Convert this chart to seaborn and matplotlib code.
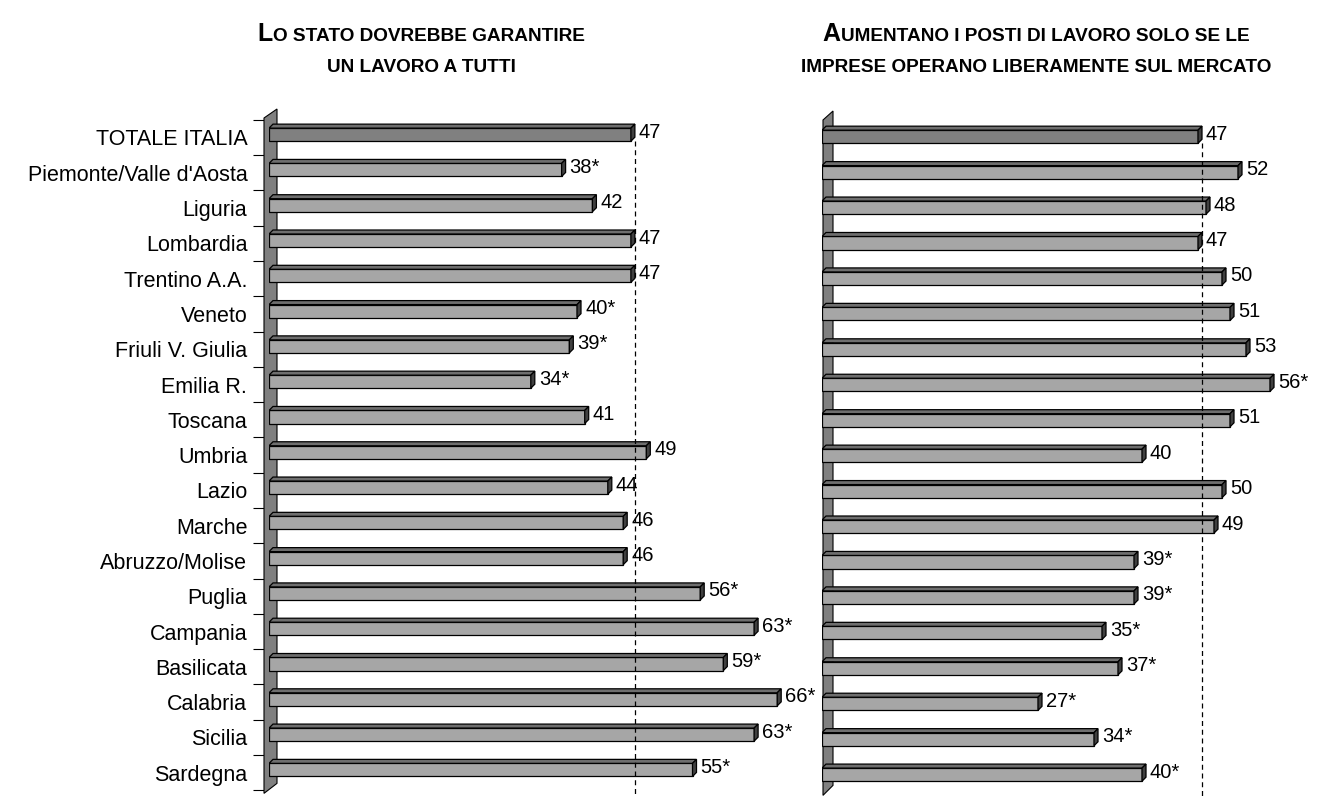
import matplotlib
matplotlib.use("Agg")
import matplotlib.pyplot as plt
import numpy as np
import pandas as pd
import seaborn as sns
from matplotlib.offsetbox import AnchoredOffsetbox, HPacker, TextArea
from matplotlib.patches import Polygon
from matplotlib.transforms import IdentityTransform

# --- data -------------------------------------------------------------------
regions = [
    "TOTALE ITALIA", "Piemonte/Valle d'Aosta", "Liguria", "Lombardia",
    "Trentino A.A.", "Veneto", "Friuli V. Giulia", "Emilia R.", "Toscana",
    "Umbria", "Lazio", "Marche", "Abruzzo/Molise", "Puglia", "Campania",
    "Basilicata", "Calabria", "Sicilia", "Sardegna",
]
state_values = [47, 38, 42, 47, 47, 40, 39, 34, 41, 49, 44, 46, 46, 56, 63, 59, 66, 63, 55]
state_labels = ["47", "38*", "42", "47", "47", "40*", "39*", "34*", "41", "49",
                "44", "46", "46", "56*", "63*", "59*", "66*", "63*", "55*"]
market_values = [47, 52, 48, 47, 50, 51, 53, 56, 51, 40, 50, 49, 39, 39, 35, 37, 27, 34, 40]
market_labels = ["47", "52", "48", "47", "50", "51", "53", "56*", "51", "40",
                 "50", "49", "39*", "39*", "35*", "37*", "27*", "34*", "40*"]

W, H = 1319, 799
ROW = 35.44
DEPTH = 4  # px, fake 3d depth of the bars

sns.set_theme(style="white")
plt.rcParams["font.family"] = ["Liberation Sans", "DejaVu Sans"]

fig = plt.figure(figsize=(W / 100, H / 100), dpi=100)


def px_axes(left, top, width, height):
    return fig.add_axes([left / W, 1 - (top + height) / H, width / W, height / H])


def draw_panel(ax, values, labels, xmax, wall_off):
    n = len(regions)
    df = pd.DataFrame({"region": regions, "value": values})
    colors = {r: ("#808080" if r == "TOTALE ITALIA" else "#a6a6a6") for r in regions}
    sns.barplot(data=df, x="value", y="region", hue="region", palette=colors,
                legend=False, orient="h", width=0.37, edgecolor="black",
                linewidth=0.9, saturation=1, ax=ax, zorder=3)
    ax.set_xlim(0, xmax)
    ax.set_ylim(n - 0.5, -0.5)
    for s in ax.spines.values():
        s.set_visible(False)
    ax.set_xticks([])
    ax.set_xlabel("")
    ax.set_ylabel("")

    # pixel -> data units
    xa, ya = ax.transData.transform((0, 0))
    xb, yb = ax.transData.transform((1, 1))
    ux = 1 / (xb - xa)
    uy = 1 / (ya - yb)
    dx, dy = DEPTH * ux, DEPTH * uy

    bars = list(ax.patches)
    for patch, lab in zip(bars, labels):
        x1 = patch.get_x() + patch.get_width()
        yt = patch.get_y()
        h = patch.get_height()
        ax.add_patch(Polygon([(0, yt), (x1, yt), (x1 + dx, yt - dy), (dx, yt - dy)],
                             closed=True, facecolor="#6e6e6e", edgecolor="black",
                             linewidth=0.9, zorder=3.5))
        ax.add_patch(Polygon([(x1, yt), (x1, yt + h), (x1 + dx, yt + h - dy), (x1 + dx, yt - dy)],
                             closed=True, facecolor="#404040", edgecolor="black",
                             linewidth=0.9, zorder=3.5))
        ax.text(x1 + dx + 4 * ux, yt + h / 2 - 2.5 * uy, lab, ha="left", va="center",
                fontsize=14.5, color="black", zorder=7)

    # national average reference line
    first = bars[0]
    xref = values[0] + dx
    ax.plot([xref, xref], [first.get_y() + first.get_height(), n - 0.3],
            color="black", linewidth=0.9, linestyle=(0, (4, 3)),
            clip_on=False, zorder=6)

    # grey side wall
    bb = ax.bbox
    x0, top, bot = bb.x0, bb.y1, bb.y0
    lo, hi = wall_off
    wall = Polygon([(x0 + lo, bot - 3), (x0 + lo, top - 1), (x0 + hi, top + 8), (x0 + hi, bot + 7)],
                   closed=True, facecolor="#808080", edgecolor="black", linewidth=0.8,
                   transform=IdentityTransform(), clip_on=False, zorder=1)
    ax.add_patch(wall)
    return ax


ax1 = px_axes(269, 117, 7.7 * 70, ROW * 19)
ax2 = px_axes(822, 119, 8.0 * 60, ROW * 19)
draw_panel(ax1, state_values, state_labels, 70, (-5, 8))
draw_panel(ax2, market_values, market_labels, 60, (1, 11))

# left tick labels and boundary ticks
n = len(regions)
ax1.spines["left"].set_position(("outward", 3.6))
ax1.set_yticks(np.arange(n) + 0.08, regions)
ax1.set_yticks(np.arange(n + 1) - 0.5 + 0.08, minor=True)
ax1.tick_params(axis="y", which="major", length=0, pad=12, labelsize=15.5, labelcolor="black")
ax1.tick_params(axis="y", which="minor", length=8, width=0.8, color="black", left=True)
ax2.set_yticks([])


def smallcaps_title(first, rest, line2, x_px):
    big = TextArea(first, textprops=dict(fontsize=18, fontweight="bold", color="black"))
    small = TextArea(rest, textprops=dict(fontsize=13.7, fontweight="bold", color="black"))
    box = HPacker(children=[big, small], align="baseline", pad=0, sep=0)
    anch = AnchoredOffsetbox(loc="lower center", child=box, pad=0, borderpad=0,
                             frameon=False, bbox_to_anchor=(x_px / W, 1 - 46 / H),
                             bbox_transform=fig.transFigure)
    fig.add_artist(anch)
    fig.text(x_px / W, 1 - 71.5 / H, line2, ha="center", va="baseline",
             fontsize=13.7, fontweight="bold", color="black")


smallcaps_title("L", "O STATO DOVREBBE GARANTIRE", "UN LAVORO A TUTTI", 421)
smallcaps_title("A", "UMENTANO I POSTI DI LAVORO SOLO SE LE",
                "IMPRESE OPERANO LIBERAMENTE SUL MERCATO", 1036)

fig.savefig("out.png", dpi=100)
